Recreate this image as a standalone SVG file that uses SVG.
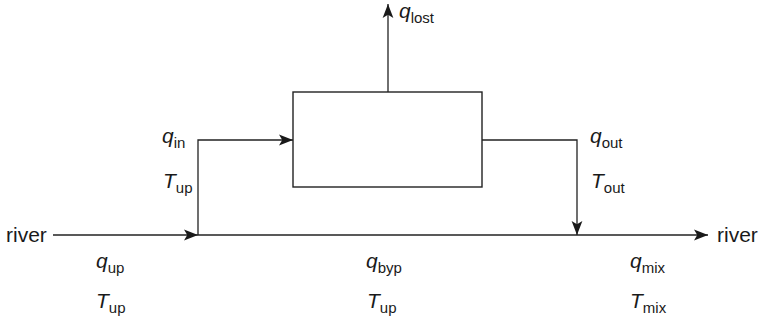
<svg xmlns="http://www.w3.org/2000/svg" width="761" height="321" viewBox="0 0 761 321">
<style>
text{font-family:"Liberation Sans",Arial,Helvetica,sans-serif;font-size:21px;fill:#1a1a1a}
.v{font-style:italic}
.s{font-size:15px}
.ln{fill:none;stroke:#222;stroke-width:1.3}
.box{fill:#fff;stroke:#222;stroke-width:1.4}
</style>
<defs>
<marker id="ah" markerUnits="userSpaceOnUse" markerWidth="14" markerHeight="12" viewBox="0 0 13 10" refX="13" refY="5" orient="auto">
<path d="M0,0 L13,5 L0,10 L3,5 z" fill="#1a1a1a"/>
</marker>
</defs>
<rect width="761" height="321" fill="#fff"/>
<g id="connectors">
<path class="ln" d="M53,235 H198" marker-end="url(#ah)"/>
<path class="ln" d="M198,235 H708" marker-end="url(#ah)"/>
<path class="ln" d="M198,235 V140 H293" marker-end="url(#ah)"/>
<path class="ln" d="M482,140 H577 V235" marker-end="url(#ah)"/>
<path class="ln" d="M388,92 V4" marker-end="url(#ah)"/>
</g>
<g id="unit">
<rect class="box" x="293" y="92" width="189" height="95"/>
</g>
<g id="labels">
<text x="6" y="242">river</text>
<text x="717" y="242">river</text>
<text x="399" y="18"><tspan class="v">q</tspan><tspan class="s" dy="5">lost</tspan></text>
<text x="162" y="143"><tspan class="v">q</tspan><tspan class="s" dy="5">in</tspan></text>
<text x="163" y="188"><tspan class="v">T</tspan><tspan class="s" dy="5">up</tspan></text>
<text x="590" y="143"><tspan class="v">q</tspan><tspan class="s" dy="5">out</tspan></text>
<text x="591" y="188"><tspan class="v">T</tspan><tspan class="s" dy="5">out</tspan></text>
<text x="96" y="268"><tspan class="v">q</tspan><tspan class="s" dy="5">up</tspan></text>
<text x="96" y="308"><tspan class="v">T</tspan><tspan class="s" dy="5">up</tspan></text>
<text x="366" y="268"><tspan class="v">q</tspan><tspan class="s" dy="5">byp</tspan></text>
<text x="367" y="308"><tspan class="v">T</tspan><tspan class="s" dy="5">up</tspan></text>
<text x="630" y="268"><tspan class="v">q</tspan><tspan class="s" dy="5">mix</tspan></text>
<text x="630" y="308"><tspan class="v">T</tspan><tspan class="s" dy="5">mix</tspan></text>
</g>
</svg>
